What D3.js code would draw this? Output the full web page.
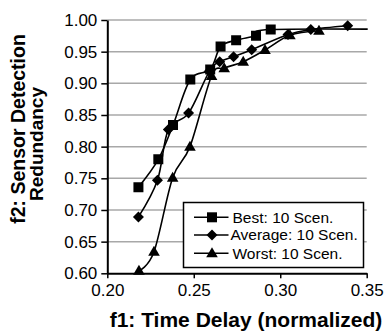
<!DOCTYPE html>
<html>
<head>
<meta charset="utf-8">
<script src="https://cdn.jsdelivr.net/npm/d3@7"></script>
<style>
  html, body { margin: 0; padding: 0; background: #fff; }
  svg { display: block; font-family: "Liberation Sans", Arial, sans-serif; }
</style>
</head>
<body>
<svg id="chart" width="387" height="335"></svg>
<script>
// Pareto fronts: time delay (f1) vs sensor detection redundancy (f2)
const seriesNames = ["Best: 10 Scen.", "Average: 10 Scen.", "Worst: 10 Scen."];
const markerTypes = ["square", "diamond", "triangle"];

const bestX = [0.218, 0.2295, 0.238, 0.248, 0.2595, 0.2655, 0.2745, 0.286, 0.2945, 0.38];
const bestY = [0.736, 0.780, 0.834, 0.906, 0.922, 0.958, 0.968, 0.975, 0.985, 0.985];

const avgX = [0.218, 0.229, 0.2353, 0.247, 0.259, 0.265, 0.273, 0.2835, 0.3045, 0.3177, 0.339];
const avgY = [0.689, 0.747, 0.827, 0.853, 0.919, 0.934, 0.942, 0.953, 0.977, 0.985, 0.991];

const worstX = [0.2183, 0.227, 0.2378, 0.2478, 0.2603, 0.2676, 0.2786, 0.2912, 0.3056, 0.3224];
const worstY = [0.604, 0.634, 0.751, 0.800, 0.9116, 0.924, 0.934, 0.9526, 0.976, 0.983];

const xTicks = [0.20, 0.25, 0.30, 0.35];
const yTicks = [0.60, 0.65, 0.70, 0.75, 0.80, 0.85, 0.90, 0.95, 1.00];

const seriesX = [bestX, avgX, worstX];
const seriesY = [bestY, avgY, worstY];

const svg = d3.select("#chart");
const plot = { left: 107.3, right: 366.7, top: 20, bottom: 273.3 };

const x = d3.scaleLinear().domain([0.20, 0.35]).range([plot.left, plot.right]);
const y = d3.scaleLinear().domain([0.60, 1.00]).range([plot.bottom, plot.top]);

svg.append("defs").append("clipPath").attr("id", "plot-clip")
  .append("rect")
  .attr("x", plot.left).attr("y", plot.top - 8)
  .attr("width", plot.right - plot.left + 1)
  .attr("height", plot.bottom - plot.top + 16);

// horizontal gridlines
svg.append("g")
  .selectAll("line")
  .data(yTicks.filter(t => t > 0.60))
  .join("line")
  .attr("x1", plot.left).attr("x2", plot.right)
  .attr("y1", d => y(d)).attr("y2", d => y(d))
  .attr("stroke", "#a8a8a8").attr("stroke-width", 1.5);

// axes
const yAxis = d3.axisLeft(y).tickValues(yTicks).tickFormat(d3.format(".2f"))
  .tickSizeInner(6).tickSizeOuter(0).tickPadding(4);
const xAxis = d3.axisBottom(x).tickValues(xTicks).tickFormat(d3.format(".2f"))
  .tickSizeInner(5).tickSizeOuter(0).tickPadding(6);

const gy = svg.append("g").attr("transform", `translate(${plot.left},0)`).call(yAxis);
const gx = svg.append("g").attr("transform", `translate(0,${plot.bottom})`).call(xAxis);
[gy, gx].forEach(g => {
  g.select(".domain").attr("stroke", "#000").attr("stroke-width", 2);
  g.selectAll(".tick line").attr("stroke", "#000").attr("stroke-width", 1.5);
  g.selectAll(".tick text").attr("fill", "#000")
    .style("font-size", "17px").style("font-family", "'Liberation Sans', Arial, sans-serif");
});

// marker shapes
function markerPath(type) {
  if (type === "square") return "M-5,-5H5V5H-5Z";
  if (type === "diamond") return "M0,-5.5L5.5,0L0,5.5L-5.5,0Z";
  return "M0,-6L5.8,4L-5.8,4Z";
}

const line = d3.line().x(d => x(d[0])).y(d => y(d[1])).curve(d3.curveCardinal.tension(0));

const plotG = svg.append("g").attr("clip-path", "url(#plot-clip)");
seriesX.forEach((xs, i) => {
  const pts = xs.map((v, j) => [v, seriesY[i][j]]);
  plotG.append("path")
    .datum(pts)
    .attr("d", line)
    .attr("fill", "none").attr("stroke", "#000").attr("stroke-width", 1.6);
  plotG.append("g")
    .selectAll("path")
    .data(pts)
    .join("path")
    .attr("transform", d => `translate(${x(d[0])},${y(d[1])})`)
    .attr("d", markerPath(markerTypes[i]))
    .attr("fill", "#000");
});

// legend
const legend = svg.append("g");
legend.append("rect")
  .attr("x", 183.5).attr("y", 202.5).attr("width", 180).attr("height", 65)
  .attr("fill", "#fff").attr("stroke", "#000").attr("stroke-width", 1.5);
const rowY = [217.3, 235, 253.3];
seriesNames.forEach((name, i) => {
  const gRow = legend.append("g");
  gRow.append("line")
    .attr("x1", 194).attr("x2", 228.5).attr("y1", rowY[i]).attr("y2", rowY[i])
    .attr("stroke", "#000").attr("stroke-width", 1.6);
  gRow.append("path")
    .attr("transform", `translate(212,${rowY[i]})`)
    .attr("d", markerPath(markerTypes[i]))
    .attr("fill", "#000");
  gRow.append("text")
    .attr("x", i === 1 ? 230.5 : 232.5).attr("y", rowY[i])
    .attr("dy", "0.35em")
    .style("font-size", "15.5px")
    .text(name);
});

// axis titles
svg.append("text")
  .attr("x", 246).attr("y", 327)
  .attr("text-anchor", "middle")
  .style("font-size", "21px").style("font-weight", "bold")
  .text("f1: Time Delay (normalized)");

svg.append("text")
  .attr("transform", "translate(25,129) rotate(-90)")
  .attr("text-anchor", "middle")
  .style("font-size", "19.5px").style("font-weight", "bold")
  .text("f2: Sensor Detection");
svg.append("text")
  .attr("transform", "translate(43,144) rotate(-90)")
  .attr("text-anchor", "middle")
  .style("font-size", "19px").style("font-weight", "bold")
  .text("Redundancy");
</script>
</body>
</html>
